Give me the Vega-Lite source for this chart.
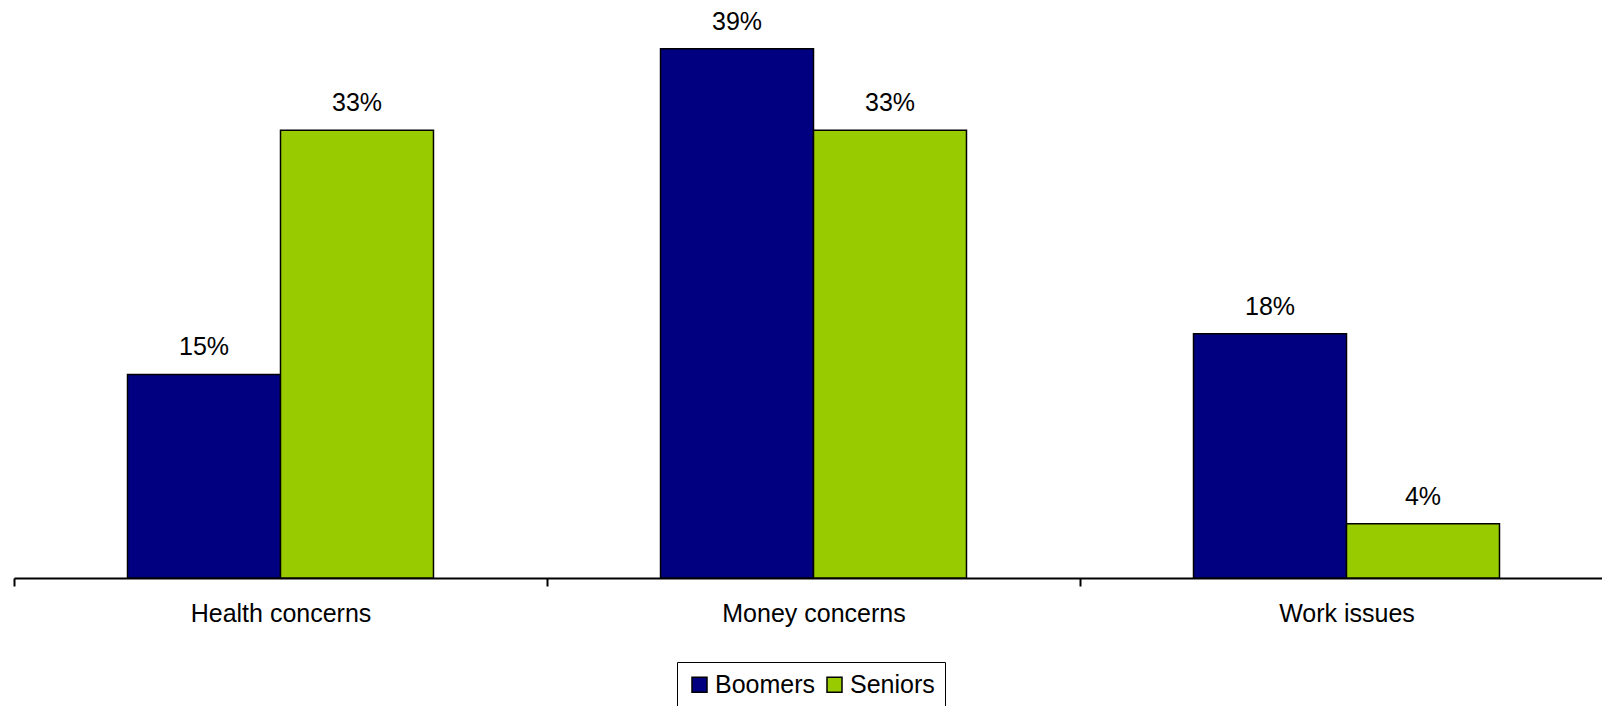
{
  "$schema": "https://vega.github.io/schema/vega-lite/v6.json",
  "width": 1599,
  "height": 570,
  "padding": {"left": 14, "top": 8, "right": 0, "bottom": 128},
  "autosize": {"type": "none"},
  "background": "white",
  "config": {"view": {"stroke": null}, "font": "Liberation Sans"},
  "data": {
    "values": [
      {"category": "Health concerns", "group": "Boomers", "value": 0.15},
      {"category": "Health concerns", "group": "Seniors", "value": 0.33},
      {"category": "Money concerns", "group": "Boomers", "value": 0.39},
      {"category": "Money concerns", "group": "Seniors", "value": 0.33},
      {"category": "Work issues", "group": "Boomers", "value": 0.18},
      {"category": "Work issues", "group": "Seniors", "value": 0.04}
    ]
  },
  "encoding": {
    "x": {
      "field": "category",
      "type": "nominal",
      "sort": null,
      "title": null,
      "scale": {"paddingInner": 0, "paddingOuter": 0},
      "axis": {
        "tickBand": "extent",
        "labelAngle": 0,
        "labelFontSize": 25,
        "labelColor": "black",
        "labelFont": "Liberation Sans",
        "labelPadding": 15,
        "labelLimit": 0,
        "domainColor": "black",
        "domainWidth": 2,
        "tickColor": "black",
        "tickWidth": 2,
        "tickSize": 8
      }
    },
    "xOffset": {
      "field": "group",
      "type": "nominal",
      "sort": ["Boomers", "Seniors"],
      "scale": {"paddingInner": 0, "paddingOuter": 0.742}
    },
    "y": {
      "field": "value",
      "type": "quantitative",
      "scale": {"domain": [0, 0.42], "nice": false},
      "axis": null
    }
  },
  "layer": [
    {
      "mark": {"type": "bar", "stroke": "black", "strokeWidth": 1.5},
      "encoding": {
        "color": {
          "field": "group",
          "type": "nominal",
          "scale": {"domain": ["Boomers", "Seniors"], "range": ["#000080", "#99CC00"]},
          "legend": {
            "title": null,
            "orient": "none",
            "direction": "horizontal",
            "legendX": 663,
            "legendY": 654,
            "strokeColor": "black",
            "fillColor": "white",
            "padding": 10,
            "labelFontSize": 25,
            "labelColor": "black",
            "labelFont": "Liberation Sans",
            "symbolType": "square",
            "symbolSize": 225,
            "symbolStrokeColor": "black",
            "symbolStrokeWidth": 1.5,
            "symbolOpacity": 1,
            "labelOffset": 3,
            "columnPadding": 6
          }
        }
      }
    },
    {
      "mark": {"type": "text", "baseline": "alphabetic", "dy": -19, "fontSize": 25, "color": "black", "font": "Liberation Sans"},
      "encoding": {
        "text": {"field": "value", "type": "quantitative", "format": ".0%"},
        "detail": {"field": "group"}
      }
    }
  ]
}
